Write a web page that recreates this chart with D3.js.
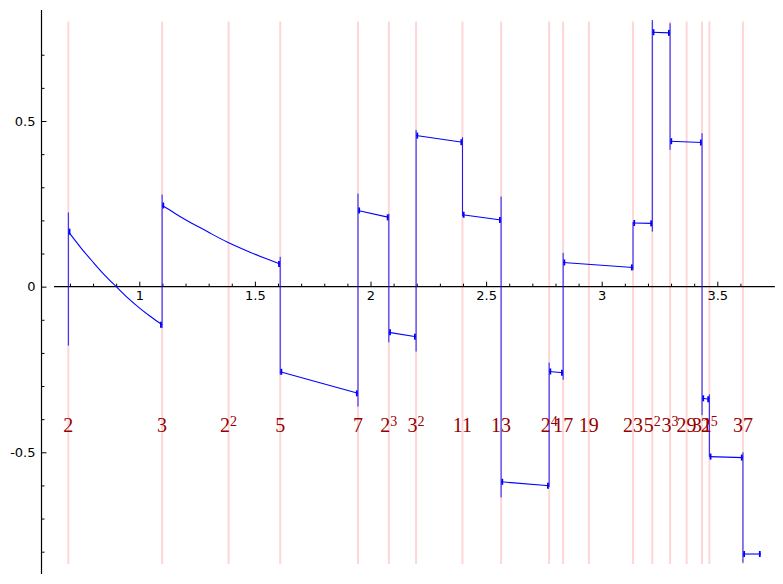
<!DOCTYPE html>
<html><head><meta charset="utf-8">
<script src="https://cdn.jsdelivr.net/npm/d3@7"></script>
<style>body{margin:0;background:#fff}svg{display:block}</style>
</head><body>
<svg id="c" width="783" height="584"></svg>
<script>
// prime-power marker positions (log n) and their labels
const markX = [0.6931,1.0986,1.3863,1.6094,1.9459,2.0794,2.1972,2.3979,2.5649,2.7726,2.8332,2.9444,3.1355,3.2189,3.2958,3.3673,3.4340,3.4657,3.6109];
const markBase = ["2","3","2","5","7","2","3","11","13","2","17","19","23","5","3","29","31","2","37"];
const markExp  = ["","","2","","","3","2","","","4","","","","2","3","","","5",""];

// curve pieces between jumps: [x, value]
const segments = [
  [[0.6931,0.166],[0.75,0.115],[0.80,0.074],[0.85,0.035],[0.90,0.0],[0.95,-0.034],[1.0,-0.064],[1.05,-0.091],[1.0986,-0.115]],
  [[1.0986,0.245],[1.15,0.223],[1.20,0.202],[1.30,0.164],[1.382,0.134],[1.479,0.104],[1.55,0.084],[1.6094,0.068]],
  [[1.6094,-0.257],[1.781,-0.290],[1.9459,-0.322]],
  [[1.9459,0.230],[2.0794,0.209]],
  [[2.0794,-0.138],[2.1972,-0.151]],
  [[2.1972,0.456],[2.3979,0.436]],
  [[2.3979,0.217],[2.5649,0.201]],
  [[2.5649,-0.589],[2.7726,-0.601]],
  [[2.7726,-0.256],[2.8332,-0.260]],
  [[2.8332,0.073],[3.1355,0.058]],
  [[3.1355,0.192],[3.2189,0.191]],
  [[3.2189,0.768],[3.2958,0.766]],
  [[3.2958,0.439],[3.4340,0.435]],
  [[3.4340,-0.337],[3.4657,-0.340]],
  [[3.4657,-0.513],[3.6109,-0.516]],
  [[3.6109,-0.807],[3.689,-0.807]]
];
// vertical jumps incl. overshoot
const jumpX    = [0.6931,1.0986,1.6094,1.9459,2.0794,2.1972,2.3979,2.5649,2.7726,2.8332,3.1355,3.2189,3.2958,3.4340,3.4657,3.6109];
const jumpLow  = [-0.178,-0.125,-0.265,-0.362,-0.168,-0.196,0.212,-0.636,-0.605,-0.281,0.050,0.166,0.413,-0.388,-0.513,-0.833];
const jumpHigh = [0.224,0.278,0.090,0.281,0.220,0.473,0.451,0.272,-0.229,0.102,0.195,0.805,0.795,0.463,-0.325,-0.500];

const xMajor = [1,1.5,2,2.5,3,3.5];
const xMajorLabels = ["1","1.5","2","2.5","3","3.5"];
const xMinor = [0.7,0.8,0.9,1.1,1.2,1.3,1.4,1.6,1.7,1.8,1.9,2.1,2.2,2.3,2.4,2.6,2.7,2.8,2.9,3.1,3.2,3.3,3.4,3.6];
const yMajor = [-0.5,0,0.5];
const yMajorLabels = ["-0.5","0","0.5"];
const yMinor = [-0.8,-0.7,-0.6,-0.4,-0.3,-0.2,-0.1,0.1,0.2,0.3,0.4,0.6,0.7];

const xAxisRange = [0.631,3.749];
const yAxisRange = [-0.867,0.835];
const markRange = [-0.837,0.800];
const labelY = -0.439;

const svg = d3.select("#c");
const x = d3.scaleLinear().domain([1,3.5]).range([139.3,717.3]);
const y = d3.scaleLinear().domain([-0.5,0.5]).range([452.3,121]);
const yAxisX = 0.577;

// pink marker lines
svg.append("g").selectAll("line").data(markX).join("line")
  .attr("x1",d=>x(d)).attr("x2",d=>x(d))
  .attr("y1",y(markRange[0])).attr("y2",y(markRange[1]))
  .attr("stroke","#ffd6d6").attr("stroke-width",2);

// axes
const fontSans = "DejaVu Sans, sans-serif";
const gx = svg.append("g").attr("transform",`translate(0,${y(0)})`);
gx.call(d3.axisBottom(x).tickValues(xMinor).tickSize(-3).tickFormat(""));
gx.call(g=>g.select(".domain").remove());
const gx2 = svg.append("g").attr("transform",`translate(0,${y(0)})`);
gx2.call(d3.axisBottom(x).tickValues(xMajor).tickSize(-5).tickPadding(4).tickFormat((d,i)=>xMajorLabels[i]));
gx2.call(g=>g.select(".domain").remove());
gx2.selectAll("text").attr("font-family",fontSans).attr("font-size",13).attr("fill","#000");
svg.append("line").attr("x1",x(xAxisRange[0])).attr("x2",x(xAxisRange[1]))
  .attr("y1",y(0)).attr("y2",y(0)).attr("stroke","#000").attr("stroke-width",1.2);

const gy = svg.append("g").attr("transform",`translate(${x(yAxisX)},0)`);
gy.call(d3.axisLeft(y).tickValues(yMinor).tickSize(-3).tickFormat(""));
gy.call(g=>g.select(".domain").remove());
const gy2 = svg.append("g").attr("transform",`translate(${x(yAxisX)},0)`);
gy2.call(d3.axisLeft(y).tickValues(yMajor).tickSize(-5).tickPadding(6).tickFormat((d,i)=>yMajorLabels[i]));
gy2.call(g=>g.select(".domain").remove());
gy2.selectAll("text").attr("font-family",fontSans).attr("font-size",13).attr("fill","#000");
svg.append("line").attr("x1",x(yAxisX)).attr("x2",x(yAxisX))
  .attr("y1",y(yAxisRange[0])).attr("y2",y(yAxisRange[1])).attr("stroke","#000").attr("stroke-width",1.2);

// blue curve
const line = d3.line().x(d=>x(d[0])).y(d=>y(d[1])).curve(d3.curveNatural);
svg.append("g").selectAll("path").data(segments).join("path")
  .attr("d",line).attr("fill","none").attr("stroke","#0000ff").attr("stroke-width",1.1);
svg.append("g").selectAll("line").data(jumpX).join("line")
  .attr("x1",d=>x(d)).attr("x2",d=>x(d))
  .attr("y1",(d,i)=>y(jumpLow[i])).attr("y2",(d,i)=>y(jumpHigh[i]))
  .attr("stroke","#1a1aff").attr("stroke-width",1);
// small oscillation blobs at segment ends
const ends = [];
segments.forEach(s=>{ ends.push({p:s[0],dir:1}); ends.push({p:s[s.length-1],dir:-1}); });
svg.append("g").selectAll("line").data(ends).join("line")
  .attr("x1",d=>x(d.p[0])+d.dir*1.2).attr("x2",d=>x(d.p[0])+d.dir*1.2)
  .attr("y1",d=>y(d.p[1])-3).attr("y2",d=>y(d.p[1])+3)
  .attr("stroke","#0000ff").attr("stroke-width",1.8);

// labels
const lab = svg.append("g").selectAll("text").data(markX).join("text")
  .attr("x",d=>x(d)).attr("y",y(labelY))
  .attr("text-anchor","middle").attr("fill","#960000")
  .attr("font-family","Liberation Serif, serif").attr("font-size",20);
lab.append("tspan").text((d,i)=>markBase[i]);
lab.filter((d,i)=>markExp[i]!=="").append("tspan")
  .attr("font-size",14).attr("dy",-6).text(d=>markExp[markX.indexOf(d)]);
</script>
</body></html>
